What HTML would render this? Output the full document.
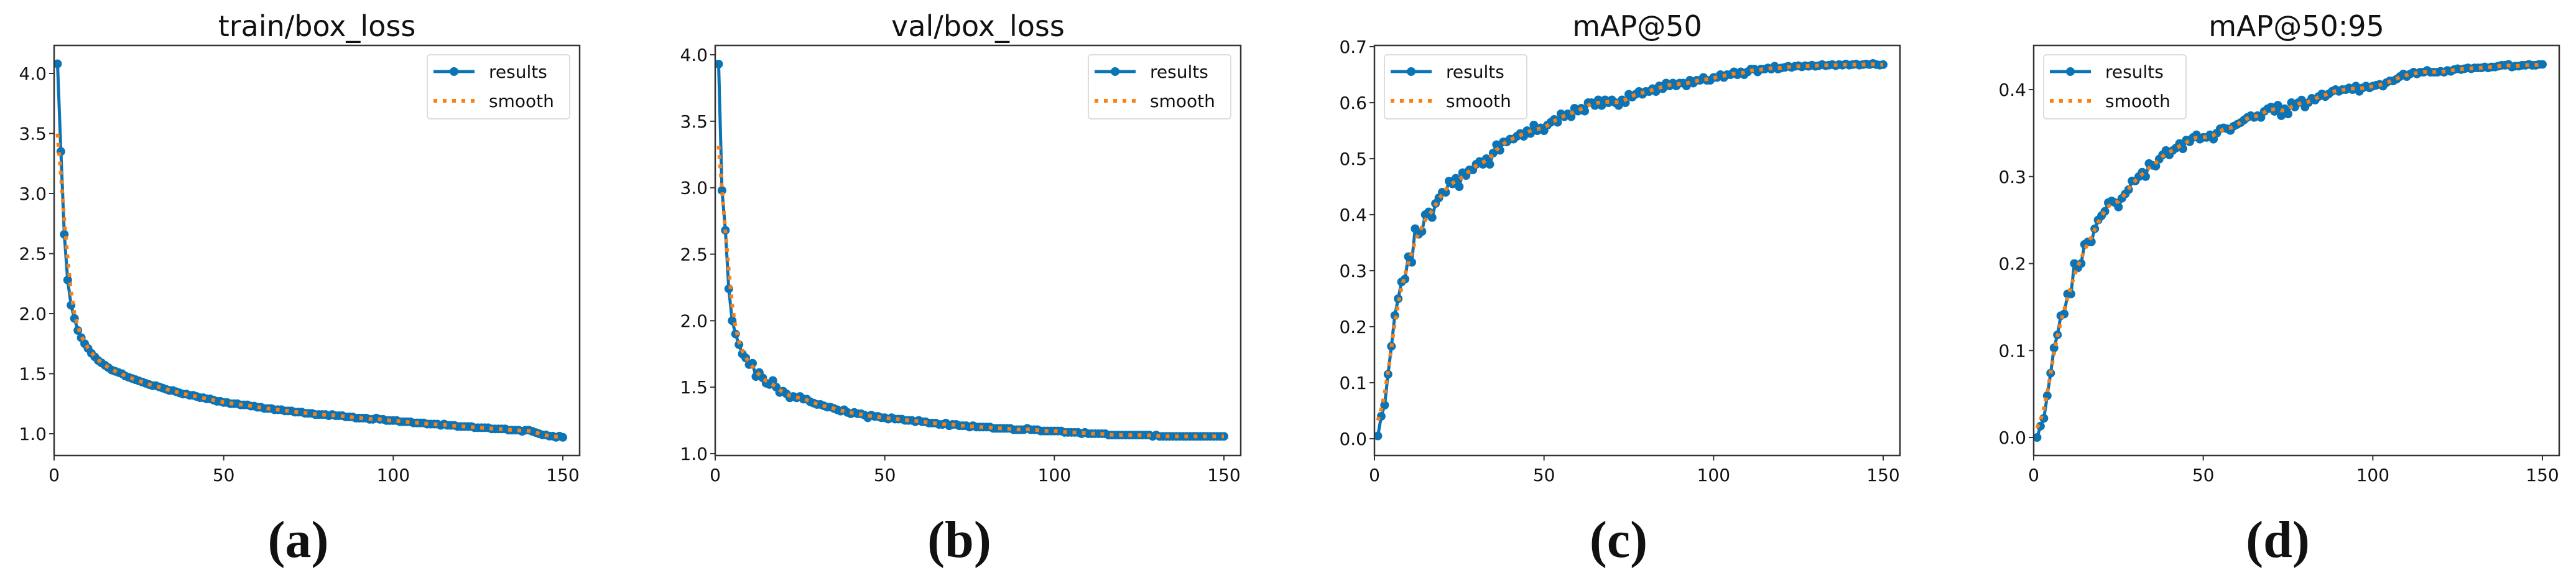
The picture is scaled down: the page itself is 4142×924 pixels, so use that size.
<!DOCTYPE html>
<html><head><meta charset="utf-8"><style>
html,body{margin:0;padding:0;background:#fff;}
svg{display:block;}
text{font-family:"DejaVu Sans","Liberation Sans",sans-serif;fill:#111;}
.lbl{font-family:"Liberation Serif",serif;font-weight:bold;}
</style></head><body>
<svg id="fig" width="4142" height="924" viewBox="0 0 4142 924" xmlns="http://www.w3.org/2000/svg"></svg>
<script>
const epochs = Array.from({length:150},(_,i)=>i+1);
const xTicks = [0,50,100,150];
const trainBox = [4.08,3.35,2.66,2.28,2.07,1.96,1.86,1.80,1.75,1.71,
1.67,1.64,1.61,1.59,1.57,1.55,1.53,1.52,1.51,1.50,
1.48,1.47,1.46,1.45,1.44,1.43,1.42,1.41,1.40,1.40,
1.39,1.38,1.37,1.36,1.36,1.35,1.34,1.33,1.33,1.32,
1.32,1.31,1.30,1.30,1.29,1.29,1.28,1.27,1.27,1.26,
1.26,1.25,1.25,1.25,1.24,1.24,1.24,1.23,1.23,1.22,
1.22,1.21,1.21,1.21,1.20,1.20,1.20,1.19,1.19,1.19,
1.18,1.18,1.18,1.17,1.17,1.17,1.16,1.16,1.16,1.16,
1.15,1.16,1.15,1.15,1.15,1.14,1.14,1.14,1.13,1.13,
1.13,1.13,1.12,1.12,1.13,1.12,1.12,1.11,1.11,1.11,
1.11,1.10,1.10,1.10,1.10,1.09,1.09,1.09,1.09,1.08,
1.08,1.08,1.08,1.07,1.08,1.07,1.07,1.07,1.06,1.06,
1.06,1.06,1.06,1.05,1.05,1.05,1.05,1.05,1.04,1.04,
1.04,1.04,1.04,1.03,1.03,1.03,1.03,1.02,1.03,1.03,
1.02,1.01,1.00,0.99,0.99,0.98,0.98,0.97,0.98,0.97];
const valBox = [3.93,2.98,2.68,2.24,2.00,1.90,1.82,1.75,1.72,1.67,
1.68,1.58,1.61,1.57,1.53,1.52,1.55,1.50,1.46,1.47,
1.45,1.42,1.43,1.42,1.43,1.41,1.41,1.39,1.38,1.37,
1.37,1.36,1.35,1.35,1.34,1.33,1.32,1.33,1.31,1.30,
1.31,1.30,1.30,1.29,1.27,1.29,1.28,1.28,1.27,1.27,
1.26,1.27,1.26,1.26,1.26,1.25,1.25,1.25,1.24,1.25,
1.24,1.24,1.23,1.23,1.23,1.22,1.22,1.23,1.21,1.22,
1.22,1.21,1.21,1.21,1.20,1.21,1.20,1.20,1.20,1.20,
1.20,1.19,1.19,1.19,1.19,1.19,1.19,1.18,1.18,1.18,
1.18,1.19,1.18,1.18,1.18,1.17,1.17,1.17,1.17,1.17,
1.17,1.17,1.16,1.16,1.16,1.16,1.16,1.15,1.16,1.15,
1.15,1.15,1.15,1.15,1.15,1.14,1.14,1.14,1.14,1.14,
1.14,1.14,1.14,1.14,1.14,1.14,1.14,1.14,1.13,1.14,
1.13,1.13,1.13,1.13,1.13,1.13,1.13,1.13,1.13,1.13,
1.13,1.13,1.13,1.13,1.13,1.13,1.13,1.13,1.13,1.13];
const map50 = [0.005,0.04,0.06,0.115,0.165,0.22,0.25,0.28,0.285,0.325,
0.315,0.375,0.365,0.37,0.40,0.405,0.395,0.42,0.43,0.44,
0.44,0.46,0.455,0.465,0.45,0.475,0.47,0.48,0.48,0.49,
0.495,0.49,0.50,0.49,0.51,0.525,0.515,0.53,0.53,0.535,
0.535,0.54,0.545,0.54,0.55,0.545,0.56,0.55,0.555,0.55,
0.56,0.565,0.57,0.565,0.58,0.575,0.58,0.575,0.59,0.585,
0.59,0.585,0.60,0.60,0.595,0.605,0.595,0.605,0.60,0.605,
0.60,0.595,0.605,0.60,0.615,0.61,0.615,0.62,0.615,0.62,
0.62,0.625,0.62,0.63,0.625,0.635,0.63,0.635,0.63,0.635,
0.635,0.63,0.64,0.635,0.64,0.64,0.645,0.64,0.64,0.645,
0.645,0.65,0.645,0.65,0.65,0.655,0.65,0.655,0.65,0.655,
0.66,0.66,0.655,0.66,0.66,0.662,0.66,0.665,0.66,0.662,
0.663,0.665,0.663,0.665,0.666,0.664,0.666,0.665,0.667,0.665,
0.666,0.668,0.666,0.667,0.668,0.666,0.668,0.667,0.669,0.667,
0.668,0.669,0.667,0.668,0.669,0.668,0.67,0.668,0.667,0.668];
const map5095 = [0.0,0.013,0.022,0.048,0.074,0.103,0.118,0.14,0.142,0.165,
0.165,0.20,0.195,0.20,0.222,0.225,0.225,0.24,0.25,0.255,
0.26,0.27,0.272,0.27,0.265,0.275,0.28,0.285,0.295,0.295,
0.30,0.305,0.30,0.315,0.313,0.312,0.32,0.325,0.33,0.325,
0.33,0.333,0.338,0.332,0.342,0.34,0.345,0.348,0.343,0.345,
0.345,0.348,0.343,0.35,0.355,0.356,0.355,0.353,0.358,0.36,
0.362,0.365,0.368,0.37,0.368,0.37,0.368,0.375,0.378,0.38,
0.375,0.382,0.37,0.378,0.372,0.385,0.38,0.385,0.388,0.38,
0.385,0.39,0.388,0.392,0.395,0.392,0.395,0.398,0.40,0.398,
0.40,0.40,0.402,0.40,0.404,0.398,0.402,0.404,0.402,0.404,
0.405,0.406,0.404,0.408,0.41,0.41,0.412,0.415,0.418,0.415,
0.418,0.42,0.418,0.42,0.42,0.422,0.42,0.42,0.42,0.421,
0.42,0.422,0.421,0.423,0.424,0.423,0.424,0.425,0.424,0.425,
0.425,0.425,0.426,0.425,0.426,0.426,0.427,0.428,0.428,0.429,
0.426,0.427,0.427,0.428,0.428,0.429,0.428,0.428,0.429,0.429];
const yTicksLoss = [1.0,1.5,2.0,2.5,3.0,3.5,4.0];
const yTicksMap50 = [0.0,0.1,0.2,0.3,0.4,0.5,0.6,0.7];
const yTicksMap5095 = [0.0,0.1,0.2,0.3,0.4];
const titles = ["train/box_loss","val/box_loss","mAP@50","mAP@50:95"];
const panelLabels = ["(a)","(b)","(c)","(d)"];

const NS="http://www.w3.org/2000/svg";
const svg=document.getElementById('fig');
function mk(tag,attrs,parent){const e=document.createElementNS(NS,tag);for(const k in attrs)e.setAttribute(k,attrs[k]);(parent||svg).appendChild(e);return e;}
function smooth(arr){const w=[0.05,0.1,0.2,0.3,0.2,0.1,0.05];const out=[];for(let i=0;i<arr.length;i++){let s=0,ws=0;for(let k=-3;k<=3;k++){const j=i+k;if(j>=0&&j<arr.length){s+=arr[j]*w[k+3];ws+=w[k+3];}}out.push(s/ws);}return out;}

const panels=[
 {key:'train-box-loss',data:trainBox,ticks:yTicksLoss,L:87,R:932,yA:4.0,pA:118,yB:1.0,pB:697,fmt:1,legend:'right'},
 {key:'val-box-loss',data:valBox,ticks:yTicksLoss,L:1150,R:1995,yA:4.0,pA:88,yB:1.0,pB:729,fmt:1,legend:'right'},
 {key:'map50',data:map50,ticks:yTicksMap50,L:2210,R:3055,yA:0.7,pA:75,yB:0.0,pB:705,fmt:1,legend:'left'},
 {key:'map50-95',data:map5095,ticks:yTicksMap5095,L:3270,R:4115,yA:0.4,pA:144,yB:0.0,pB:703,fmt:1,legend:'left'}
];
const T=73,B=732,BLUE='#0b74b6',ORANGE='#ff7f0e';
panels.forEach((p,pi)=>{
 const g=mk('g',{});
 
 
 const xs=v=>p.L+v*(818/150);
 const ys=v=>p.pA+(p.yA-v)*(p.pB-p.pA)/(p.yA-p.yB);
 const clip=mk('clipPath',{id:'c'+pi},g);mk('rect',{x:p.L,y:T,width:p.R-p.L,height:B-T},clip);
 const t=mk('text',{x:(p.L+p.R)/2,y:58,'font-size':46,'text-anchor':'middle'},g);t.textContent=titles[pi];
 
 
 p.ticks.forEach(v=>{const y=ys(v);mk('line',{x1:p.L-8,x2:p.L,y1:y,y2:y,stroke:'#333','stroke-width':2},g);
  const tx=mk('text',{x:p.L-12,y:y+10,'font-size':28,'text-anchor':'end'},g);tx.textContent=v.toFixed(p.fmt);
  
  });
 xTicks.forEach(v=>{const x=xs(v);mk('line',{x1:x,x2:x,y1:B,y2:B+8,stroke:'#333','stroke-width':2},g);
  const tx=mk('text',{x:x,y:773,'font-size':28,'text-anchor':'middle'},g);tx.textContent=v;
  
  });
 const plot=mk('g',{'clip-path':'url(#c'+pi+')'},g);
 const pts=p.data.map((v,i)=>xs(epochs[i]).toFixed(1)+','+ys(v).toFixed(1)).join(' ');
 const line=mk('polyline',{points:pts,fill:'none',stroke:BLUE,'stroke-width':5,'stroke-linejoin':'round'},plot);
 
 
 p.data.forEach((v,i)=>{const c=mk('circle',{cx:xs(epochs[i]),cy:ys(v),r:7,fill:BLUE},plot);
  
  });
 const sm=smooth(p.data);
 const sp=mk('polyline',{points:sm.map((v,i)=>xs(epochs[i]).toFixed(1)+','+ys(v).toFixed(1)).join(' '),fill:'none',stroke:ORANGE,'stroke-width':6,'stroke-dasharray':'6 9'},plot);
 
 
 const fr=mk('rect',{x:p.L,y:T,width:p.R-p.L,height:B-T,fill:'none',stroke:'#333','stroke-width':2.5},g);
 
 
 const lx=p.legend==='right'?p.R-245:p.L+16;
 const lg=mk('g',{},g);
 
 
 mk('rect',{x:lx,y:88,width:229,height:103,rx:5,fill:'#fff','fill-opacity':0.8,stroke:'#ddd','stroke-width':2},lg);
 mk('line',{x1:lx+10,x2:lx+76,y1:115,y2:115,stroke:BLUE,'stroke-width':5},lg);
 mk('circle',{cx:lx+43,cy:115,r:7,fill:BLUE},lg);
 mk('line',{x1:lx+10,x2:lx+76,y1:162,y2:162,stroke:ORANGE,'stroke-width':6,'stroke-dasharray':'6 9'},lg);
 const l1=mk('text',{x:lx+99,y:125,'font-size':28},lg);l1.textContent='results';
 
 
 const l2=mk('text',{x:lx+99,y:172,'font-size':28},lg);l2.textContent='smooth';
 
 
 const pl=mk('text',{x:(p.L+p.R)/2-30,y:895,'font-size':84,'text-anchor':'middle',class:'lbl'},g);pl.textContent=panelLabels[pi];
 
 
});
</script>
</body></html>
